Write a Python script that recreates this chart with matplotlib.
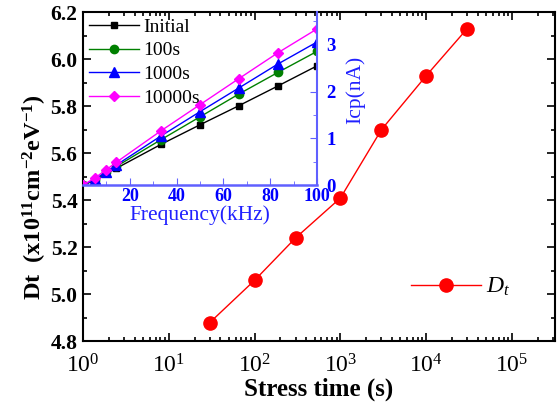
import matplotlib
matplotlib.use("Agg")
import matplotlib.pyplot as plt
from matplotlib.ticker import MultipleLocator, LogLocator, NullFormatter, FormatStrFormatter

plt.rcParams['font.family'] = ['Liberation Serif', 'DejaVu Serif']
plt.rcParams['mathtext.fontset'] = 'custom'
plt.rcParams['mathtext.rm'] = 'Liberation Serif:bold'
plt.rcParams['mathtext.bf'] = 'Liberation Serif:bold'
plt.rcParams['mathtext.it'] = 'Liberation Serif:italic'
plt.rcParams['mathtext.default'] = 'bf'

# Main data
stress_time = [30, 100, 300, 1000, 3000, 10000, 30000]
dt_values = [4.88, 5.06, 5.24, 5.41, 5.70, 5.93, 6.13]

# Inset data
freq = [0, 5, 10, 14.3, 33.3, 50, 66.7, 83.3, 100]
icp_initial = [0.0, 0.10, 0.25, 0.36, 0.87, 1.29, 1.70, 2.12, 2.55]
icp_100s = [0.0, 0.11, 0.27, 0.40, 0.97, 1.46, 1.95, 2.41, 2.86]
icp_1000s = [0.0, 0.12, 0.29, 0.43, 1.05, 1.57, 2.08, 2.59, 3.06]
icp_10000s = [0.0, 0.15, 0.33, 0.49, 1.16, 1.72, 2.28, 2.83, 3.34]
inset_labels = ['Initial', '100s', '1000s', '10000s']

fig = plt.figure(figsize=(5.57, 4.05), dpi=100)
ax = fig.add_axes([0.149, 0.157, 0.8474, 0.813])

ax.plot(stress_time, dt_values, '-', color='#ff0000', lw=1.0, marker='o',
        markersize=9.5, markerfacecolor='#ff0000', markeredgecolor='#ff0000',
        label=r'$\mathit{D}_{\mathit{t}}$')
ax.set_xscale('log')
ax.set_xlim(1, 10**5.5)
ax.set_ylim(4.8, 6.2)
ax.yaxis.set_major_locator(MultipleLocator(0.2))
ax.yaxis.set_minor_locator(MultipleLocator(0.1))
ax.yaxis.set_major_formatter(FormatStrFormatter('%.1f'))
ax.xaxis.set_major_locator(LogLocator(base=10, numticks=10))
ax.xaxis.set_minor_locator(LogLocator(base=10, subs=range(2, 10), numticks=20))
ax.xaxis.set_minor_formatter(NullFormatter())
ax.tick_params(which='both', direction='in', top=True, right=True, width=1.2)
ax.tick_params(which='major', length=6)
ax.tick_params(which='minor', length=3)
ax.tick_params(axis='x', labelsize=17, pad=9)
ax.tick_params(axis='y', labelsize=15.5, pad=4)
for lbl in ax.get_yticklabels():
    lbl.set_fontweight('bold')
for s in ax.spines.values():
    s.set_linewidth(1.5)

ax.set_xlabel('Stress time (s)', fontsize=18, fontweight='bold', labelpad=0)
ax.set_ylabel(r'Dt  $\mathbf{(x10^{11}cm^{-2}eV^{-1})}$', fontsize=17.5, fontweight='bold')
ax.yaxis.set_label_coords(-0.072, 0.44)

ax.legend(loc='center left', bbox_to_anchor=(0.694, 0.165), frameon=False,
          fontsize=17, handlelength=3.0, handletextpad=0.2,
          borderpad=0, borderaxespad=0)

# Inset
ins = fig.add_axes([0.149, 0.543, 0.42, 0.427])
ins.patch.set_alpha(0)
series = [icp_initial, icp_100s, icp_1000s, icp_10000s]
colors = ['#000000', '#008000', '#0000ff', '#ff00ff']
markers = ['s', 'o', '^', 'D']
msizes = [5, 6, 6.5, 5.5]
for ys, c, m, ms, lab in zip(series, colors, markers, msizes, inset_labels):
    ins.plot(freq, ys, '-', color=c, lw=1.0, marker=m, markersize=ms,
             markerfacecolor=c, markeredgecolor=c, label=lab)
ins.set_xlim(0, 100)
ins.set_ylim(0, 3.7)
ins.yaxis.tick_right()
ins.yaxis.set_label_position('right')
ins.spines['left'].set_visible(False)
ins.spines['top'].set_visible(False)
spine_blue = '#6060ff'
ins.spines['right'].set_color(spine_blue)
ins.spines['bottom'].set_color(spine_blue)
ins.spines['right'].set_linewidth(1.5)
ins.spines['bottom'].set_linewidth(1.8)
ins.xaxis.set_major_locator(MultipleLocator(20))
ins.xaxis.set_minor_locator(MultipleLocator(10))
ins.yaxis.set_major_locator(MultipleLocator(1))
ins.yaxis.set_minor_locator(MultipleLocator(0.5))
ins.tick_params(which='both', direction='in', colors=spine_blue, labelcolor='#0000ff',
                labelsize=13.5, left=False, top=False)
ins.tick_params(which='major', length=5)
ins.tick_params(which='minor', length=3)
ins.tick_params(axis='x', pad=2, labelsize=13)
ins.tick_params(axis='y', pad=7)
ins.set_xticks([20, 40, 60, 80, 100])
for lbl in ins.get_xticklabels() + ins.get_yticklabels():
    lbl.set_fontweight('bold')
ins.set_xlabel('Frequency(kHz)', fontsize=15.5, color='#2020ff', labelpad=0)
ins.set_ylabel('Icp(nA)', fontsize=15.5, color='#2020ff', labelpad=1)
ins.yaxis.set_label_coords(1.12, 0.55)
ins.legend(loc='upper left', frameon=False, fontsize=14, handlelength=2.6,
           handletextpad=0.2, labelspacing=0.32, borderpad=0.2, borderaxespad=0.1)

fig.savefig('out.png', dpi=100)
